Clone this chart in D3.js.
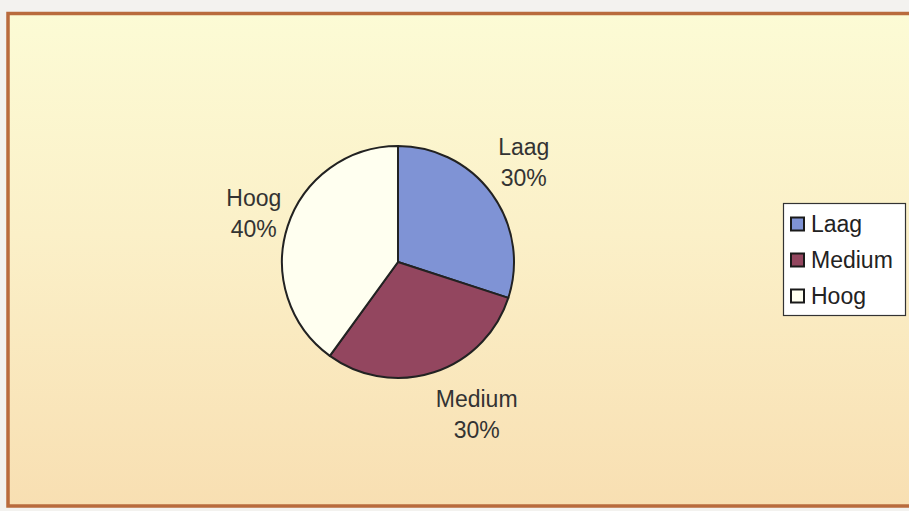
<!DOCTYPE html>
<html><head><meta charset="utf-8">
<script src="https://cdn.jsdelivr.net/npm/d3@7"></script>
<style>html,body{margin:0;padding:0;background:#f3f2ef;}svg{display:block;}</style>
</head><body><svg id="c" width="909" height="511"></svg>
<script>
const categories = ["Laag", "Medium", "Hoog"];
const values = [30, 30, 40];
const percentLabels = ["30%", "30%", "40%"];
const colors = ["#7f93d5", "#93465f", "#fffff0"];

const svg = d3.select("#c");
const defs = svg.append("defs");
const grad = defs.append("linearGradient").attr("id","bg").attr("x1",0).attr("y1",0).attr("x2",0).attr("y2",1);
grad.append("stop").attr("offset","0%").attr("stop-color","#fcfbd5");
grad.append("stop").attr("offset","45%").attr("stop-color","#fbf0c8");
grad.append("stop").attr("offset","100%").attr("stop-color","#f8dfb2");

svg.append("rect").attr("x",8).attr("y",13.5).attr("width",905).attr("height",492.5)
  .attr("fill","url(#bg)").attr("stroke","#b96b3d").attr("stroke-width",3.5);

const cx = 398, cy = 262, r = 116;
const pie = d3.pie().sort(null).value(d => d)(values);
const arc = d3.arc().innerRadius(0).outerRadius(r);
const g = svg.append("g").attr("transform",`translate(${cx},${cy})`);
g.selectAll("path").data(pie).join("path")
  .attr("d", arc).attr("fill",(d,i)=>colors[i])
  .attr("stroke","#222").attr("stroke-width",2).attr("stroke-linejoin","round");

// labels: positioned relative to the arc centroid, with per-slice nudges
const labelArc = d3.arc().innerRadius(r*1.33).outerRadius(r*1.33);
const nudges = [[1,-16.5],[31,-2],[2.5,-8.4]];
pie.forEach((d,i)=>{
  const [x,y] = labelArc.centroid(d);
  const t = g.append("text").attr("text-anchor","middle")
    .attr("font-family","Liberation Sans, Arial, sans-serif").attr("font-size",23).attr("fill","#333");
  t.append("tspan").attr("x",x+nudges[i][0]).attr("y",y+nudges[i][1]).text(categories[i]);
  t.append("tspan").attr("x",x+nudges[i][0]).attr("y",y+nudges[i][1]+31).text(percentLabels[i]);
});

// legend
const lg = svg.append("g");
lg.append("rect").attr("x",783.5).attr("y",203.5).attr("width",122).attr("height",112)
  .attr("fill","#ffffff").attr("stroke","#333").attr("stroke-width",1.2);
const ly = d3.scalePoint().domain(categories).range([224, 296]);
categories.forEach((c,i)=>{
  lg.append("rect").attr("x",791).attr("y",ly(c)-6.5).attr("width",13).attr("height",13)
    .attr("fill",colors[i]).attr("stroke","#1a1a1a").attr("stroke-width",2);
  lg.append("text").attr("x",811).attr("y",ly(c)+8)
    .attr("font-family","Liberation Sans, Arial, sans-serif").attr("font-size",23).attr("fill","#222").text(c);
});
</script></body></html>
